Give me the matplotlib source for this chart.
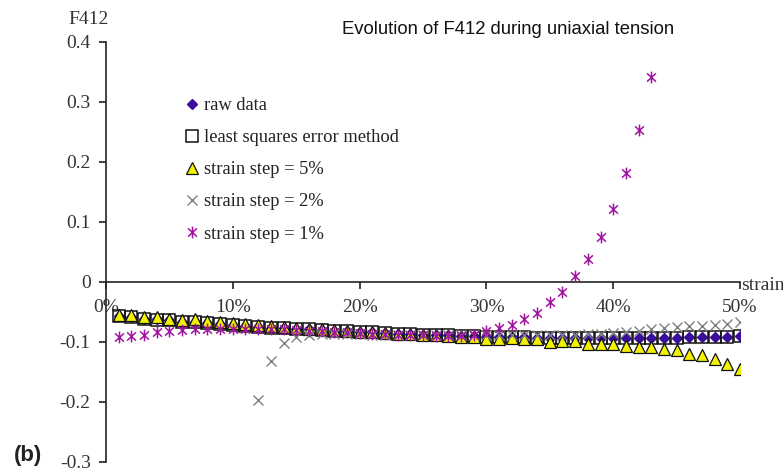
import numpy as np
import matplotlib
matplotlib.use("Agg")
import matplotlib.pyplot as plt
from matplotlib.path import Path

# ---------------- data ----------------
strain = list(range(1, 51))  # strain in %

raw_data = [-0.057, -0.058, -0.061, -0.062, -0.064, -0.066, -0.067, -0.069, -0.070, -0.072,
            -0.074, -0.075, -0.076, -0.077, -0.078, -0.079, -0.080, -0.081, -0.082, -0.083,
            -0.084, -0.085, -0.086, -0.087, -0.088, -0.089, -0.089, -0.090, -0.090, -0.091,
            -0.091, -0.092, -0.092, -0.093, -0.093, -0.093, -0.094, -0.094, -0.094, -0.094,
            -0.094, -0.094, -0.094, -0.093, -0.093, -0.092, -0.092, -0.091, -0.091, -0.090]

least_squares = [-0.057, -0.058, -0.061, -0.063, -0.064, -0.066, -0.067, -0.069, -0.070, -0.072,
                 -0.074, -0.075, -0.076, -0.077, -0.078, -0.079, -0.080, -0.081, -0.082, -0.083,
                 -0.084, -0.085, -0.086, -0.087, -0.088, -0.089, -0.089, -0.090, -0.090, -0.091,
                 -0.091, -0.092, -0.092, -0.093, -0.093, -0.093, -0.094, -0.094, -0.094, -0.094,
                 -0.094, -0.094, -0.094, -0.093, -0.093, -0.092, -0.092, -0.091, -0.091, -0.090]

step5 = [-0.055, -0.055, -0.058, -0.058, -0.061, -0.063, -0.061, -0.065, -0.066, -0.069,
         -0.070, -0.072, -0.074, -0.075, -0.077, -0.078, -0.079, -0.080, -0.081, -0.083,
         -0.084, -0.085, -0.086, -0.087, -0.088, -0.089, -0.090, -0.091, -0.092, -0.095,
         -0.095, -0.094, -0.095, -0.095, -0.100, -0.098, -0.098, -0.1035, -0.1035, -0.1035,
         -0.107, -0.109, -0.109, -0.111, -0.113, -0.120, -0.122, -0.128, -0.137, -0.145]

strain_2 = list(range(12, 51))
step2 = [-0.197, -0.131, -0.102, -0.091, -0.088, -0.087, -0.087, -0.087, -0.087, -0.088,
         -0.088, -0.088, -0.088, -0.088, -0.088, -0.088, -0.088, -0.088, -0.088, -0.088,
         -0.088, -0.088, -0.088, -0.088, -0.088, -0.088, -0.087, -0.086, -0.085, -0.083,
         -0.081, -0.079, -0.077, -0.075, -0.074, -0.073, -0.072, -0.070, -0.067]

strain_1 = list(range(1, 44))
step1 = [-0.092, -0.090, -0.088, -0.084, -0.081, -0.080, -0.079, -0.078, -0.078, -0.078,
         -0.078, -0.078, -0.079, -0.079, -0.080, -0.081, -0.082, -0.083, -0.084, -0.085,
         -0.086, -0.087, -0.088, -0.089, -0.089, -0.090, -0.090, -0.090, -0.088, -0.082,
         -0.077, -0.071, -0.062, -0.051, -0.034, -0.017, 0.010, 0.039, 0.075, 0.122,
         0.181, 0.254, 0.341]

series_labels = ["raw data", "least squares error method", "strain step = 5%",
                 "strain step = 2%", "strain step = 1%"]

y_ticks = [-0.3, -0.2, -0.1, 0.0, 0.1, 0.2, 0.3, 0.4]
y_ticklabels = ["-0.3", "-0.2", "-0.1", "0", "0.1", "0.2", "0.3", "0.4"]
x_ticks = [0, 10, 20, 30, 40, 50]
x_ticklabels = ["0%", "10%", "20%", "30%", "40%", "50%"]

title = "Evolution of F412 during uniaxial tension"

# ---------------- styling ----------------
serif = ["Liberation Serif", "DejaVu Serif"]
sans = ["Liberation Sans", "DejaVu Sans"]

asterisk = Path([(0, -1), (0, 1), (-0.75, -0.7), (0.75, 0.7), (-0.75, 0.7), (0.75, -0.7)],
                [Path.MOVETO, Path.LINETO, Path.MOVETO, Path.LINETO, Path.MOVETO, Path.LINETO])

W, H = 783, 470
fig = plt.figure(figsize=(W / 100, H / 100), dpi=100)
ax = fig.add_axes([106 / W, 1 - 462 / H, (740 - 106) / W, (462 - 42) / H])

ax.set_xlim(0, 50)
ax.set_ylim(-0.3, 0.4)

ax.spines["top"].set_visible(False)
ax.spines["right"].set_visible(False)
ax.spines["bottom"].set_position(("data", 0))
for s in ("left", "bottom"):
    ax.spines[s].set_linewidth(1.2)
    ax.spines[s].set_color("#222222")

ax.set_yticks(y_ticks)
ax.set_yticklabels(y_ticklabels, family=serif, fontsize=14, color="#333333")
ax.set_xticks(x_ticks)
ax.set_xticklabels(x_ticklabels, family=serif, fontsize=14, color="#333333")
ax.tick_params(axis="y", direction="out", length=5, width=1.2, pad=6, color="#222222")
ax.tick_params(axis="x", direction="out", length=5, width=1.2, pad=7, color="#222222")

h_raw, = ax.plot(strain, raw_data, linestyle="none", marker="D", markersize=5.5,
                 markerfacecolor="#3B0D9C", markeredgecolor="#3B0D9C", zorder=3)
h_ls, = ax.plot(strain, least_squares, linestyle="none", marker="s", markersize=8,
                markerfacecolor="none", markeredgecolor="#111111", markeredgewidth=1.1, zorder=4)
h_5, = ax.plot(strain, step5, linestyle="none", marker="^", markersize=8,
               markerfacecolor="#F2F200", markeredgecolor="#111111", markeredgewidth=0.9, zorder=5)
h_2, = ax.plot(strain_2, step2, linestyle="none", marker="x", markersize=7,
               markeredgecolor="#7F7F7F", markeredgewidth=1.0, zorder=6)
h_1, = ax.plot(strain_1, step1, linestyle="none", marker=asterisk, markersize=8.5,
               markerfacecolor="none", markeredgecolor="#A0149F", markeredgewidth=1.1, zorder=7)

leg = ax.legend([h_raw, h_ls, h_5, h_2, h_1], series_labels,
                loc="upper left", bbox_to_anchor=(186 / W, 1 - 97 / H),
                bbox_transform=fig.transFigure, frameon=False,
                prop={"family": serif, "size": 13.3}, handlelength=0.65,
                handletextpad=0.3, labelspacing=0.82, borderpad=0, borderaxespad=0,
                numpoints=1)
for t in leg.get_texts():
    t.set_color("#222222")

fig.text(508 / W, 1 - 30 / H, title, ha="center", va="center",
         family=sans, fontsize=13.3, color="#111111")
fig.text(89 / W, 1 - 20 / H, "F412", ha="center", va="center",
         family=serif, fontsize=14, color="#333333")
fig.text(741 / W, 1 - 286 / H, "strain", ha="left", va="center",
         family=serif, fontsize=14, color="#333333")
fig.text(28 / W, 1 - 456 / H, "(b)", ha="center", va="center",
         family=sans, fontsize=16, fontweight="bold", color="#222222")

fig.savefig("out.png", dpi=100)
